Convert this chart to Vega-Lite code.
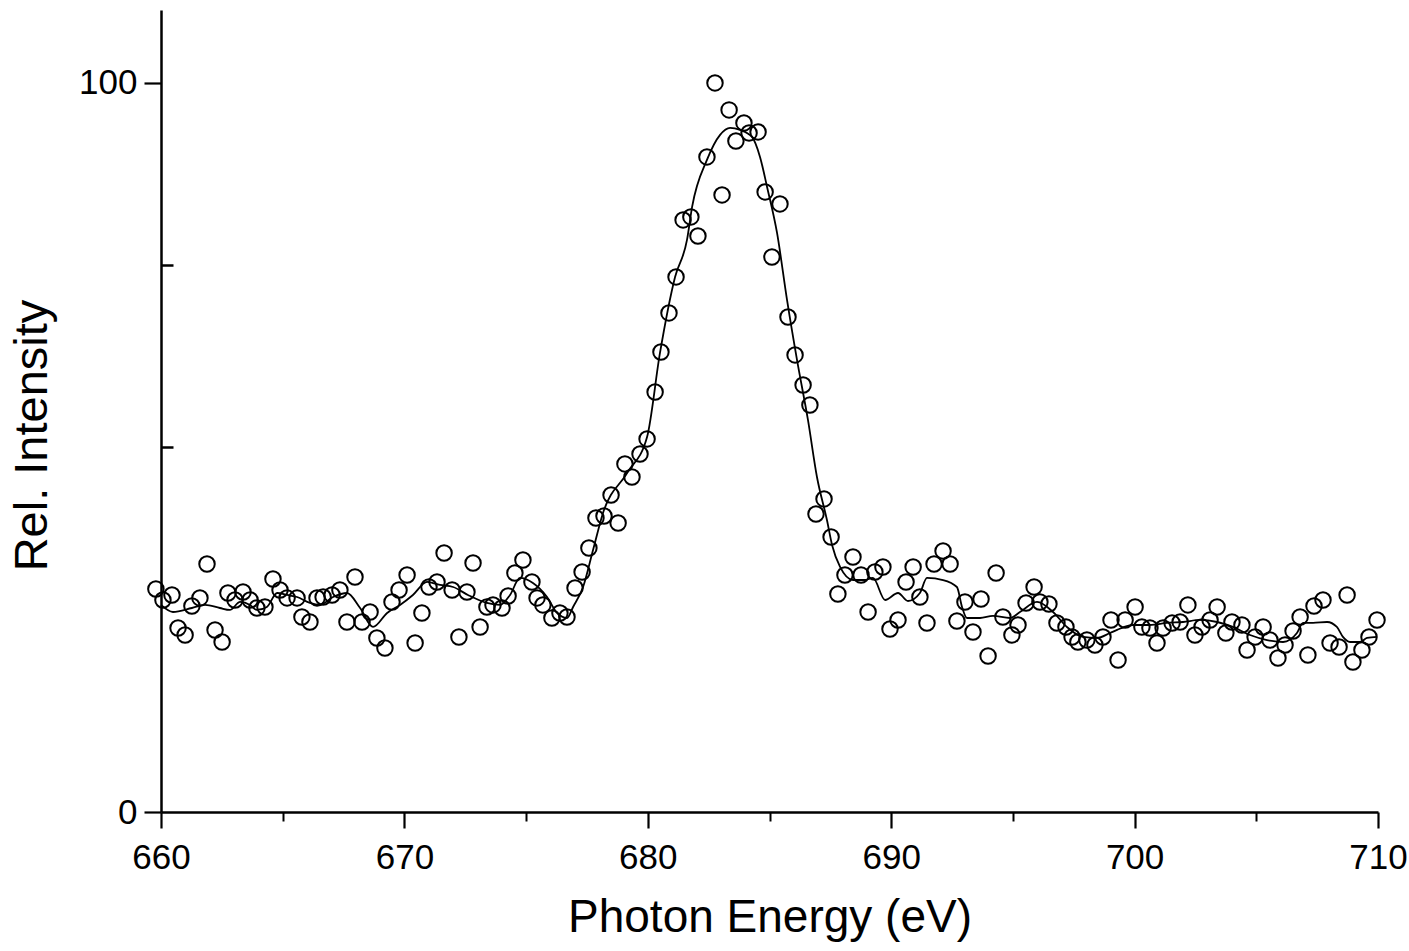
{
  "$schema": "https://vega.github.io/schema/vega-lite/v6.json",
  "width": 1217,
  "height": 802,
  "autosize": {"type": "none"},
  "padding": {"left": 161, "top": 10, "right": 31, "bottom": 139},
  "background": "white",
  "config": {
    "view": {"stroke": null},
    "font": "Liberation Sans",
    "axis": {
      "labelFont": "Liberation Sans",
      "titleFont": "Liberation Sans",
      "domainColor": "black",
      "tickColor": "black",
      "labelColor": "black",
      "titleColor": "black",
      "grid": false
    }
  },
  "datasets": {
    "pts": [
      {"E": 659.79, "I": 30.59}, {"E": 660.08, "I": 29.08}, {"E": 660.45, "I": 29.77}, {"E": 660.70, "I": 25.24},
      {"E": 660.99, "I": 24.28}, {"E": 661.27, "I": 28.26}, {"E": 661.60, "I": 29.36}, {"E": 661.89, "I": 34.02},
      {"E": 662.22, "I": 24.97}, {"E": 662.51, "I": 23.32}, {"E": 662.75, "I": 30.04}, {"E": 663.04, "I": 29.08},
      {"E": 663.37, "I": 30.18}, {"E": 663.66, "I": 29.08}, {"E": 663.94, "I": 27.98}, {"E": 664.27, "I": 28.12},
      {"E": 664.60, "I": 31.96}, {"E": 664.89, "I": 30.45}, {"E": 665.18, "I": 29.36}, {"E": 665.59, "I": 29.36},
      {"E": 665.79, "I": 26.75}, {"E": 666.12, "I": 26.06}, {"E": 666.41, "I": 29.36}, {"E": 666.66, "I": 29.49},
      {"E": 667.03, "I": 29.77}, {"E": 667.35, "I": 30.45}, {"E": 667.64, "I": 26.06}, {"E": 667.97, "I": 32.24},
      {"E": 668.26, "I": 26.06}, {"E": 668.59, "I": 27.43}, {"E": 668.87, "I": 23.87}, {"E": 669.20, "I": 22.50},
      {"E": 669.49, "I": 28.81}, {"E": 669.78, "I": 30.45}, {"E": 670.11, "I": 32.51}, {"E": 670.44, "I": 23.18},
      {"E": 670.72, "I": 27.30}, {"E": 671.01, "I": 30.86}, {"E": 671.34, "I": 31.55}, {"E": 671.63, "I": 35.53},
      {"E": 671.96, "I": 30.45}, {"E": 672.24, "I": 24.01}, {"E": 672.57, "I": 30.18}, {"E": 672.82, "I": 34.16},
      {"E": 673.11, "I": 25.38}, {"E": 673.39, "I": 28.12}, {"E": 673.64, "I": 28.40}, {"E": 674.01, "I": 27.98},
      {"E": 674.26, "I": 29.63}, {"E": 674.54, "I": 32.78}, {"E": 674.87, "I": 34.57}, {"E": 675.24, "I": 31.55},
      {"E": 675.45, "I": 29.36}, {"E": 675.69, "I": 28.40}, {"E": 676.06, "I": 26.61}, {"E": 676.39, "I": 27.30},
      {"E": 676.68, "I": 26.75}, {"E": 677.01, "I": 30.73}, {"E": 677.30, "I": 32.92}, {"E": 677.58, "I": 36.21},
      {"E": 677.87, "I": 40.33}, {"E": 678.20, "I": 40.60}, {"E": 678.49, "I": 43.48}, {"E": 678.78, "I": 39.64},
      {"E": 679.06, "I": 47.74}, {"E": 679.35, "I": 45.95}, {"E": 679.68, "I": 49.11}, {"E": 679.97, "I": 51.17},
      {"E": 680.30, "I": 57.61}, {"E": 680.54, "I": 63.10}, {"E": 680.87, "I": 68.45}, {"E": 681.16, "I": 73.39},
      {"E": 681.45, "I": 81.21}, {"E": 681.77, "I": 81.62}, {"E": 682.06, "I": 79.01}, {"E": 682.43, "I": 89.85},
      {"E": 682.76, "I": 100.0}, {"E": 683.05, "I": 84.64}, {"E": 683.34, "I": 96.30}, {"E": 683.62, "I": 92.04},
      {"E": 683.95, "I": 94.51}, {"E": 684.16, "I": 93.14}, {"E": 684.53, "I": 93.28}, {"E": 684.82, "I": 85.05},
      {"E": 685.10, "I": 76.13}, {"E": 685.43, "I": 83.40}, {"E": 685.76, "I": 67.90}, {"E": 686.05, "I": 62.69},
      {"E": 686.38, "I": 58.57}, {"E": 686.66, "I": 55.83}, {"E": 686.91, "I": 40.88}, {"E": 687.24, "I": 42.94},
      {"E": 687.53, "I": 37.72}, {"E": 687.81, "I": 29.90}, {"E": 688.10, "I": 32.51}, {"E": 688.43, "I": 34.98},
      {"E": 688.76, "I": 32.51}, {"E": 689.05, "I": 27.43}, {"E": 689.33, "I": 32.92}, {"E": 689.66, "I": 33.61},
      {"E": 689.95, "I": 25.10}, {"E": 690.28, "I": 26.34}, {"E": 690.61, "I": 31.55}, {"E": 690.90, "I": 33.61},
      {"E": 691.18, "I": 29.49}, {"E": 691.47, "I": 25.93}, {"E": 691.76, "I": 34.02}, {"E": 692.13, "I": 35.80},
      {"E": 692.42, "I": 34.02}, {"E": 692.70, "I": 26.20}, {"E": 693.03, "I": 28.81}, {"E": 693.36, "I": 24.69},
      {"E": 693.69, "I": 29.22}, {"E": 693.98, "I": 21.40}, {"E": 694.31, "I": 32.78}, {"E": 694.59, "I": 26.75},
      {"E": 694.96, "I": 24.28}, {"E": 695.21, "I": 25.65}, {"E": 695.54, "I": 28.67}, {"E": 695.87, "I": 30.86},
      {"E": 696.11, "I": 28.81}, {"E": 696.48, "I": 28.53}, {"E": 696.81, "I": 25.93}, {"E": 697.18, "I": 25.38},
      {"E": 697.43, "I": 24.01}, {"E": 697.67, "I": 23.32}, {"E": 698.04, "I": 23.59}, {"E": 698.37, "I": 22.91},
      {"E": 698.70, "I": 24.01}, {"E": 699.03, "I": 26.34}, {"E": 699.32, "I": 20.85}, {"E": 699.61, "I": 26.34},
      {"E": 700.02, "I": 28.12}, {"E": 700.30, "I": 25.38}, {"E": 700.63, "I": 25.24}, {"E": 700.92, "I": 23.18},
      {"E": 701.17, "I": 25.24}, {"E": 701.54, "I": 25.93}, {"E": 701.87, "I": 26.06}, {"E": 702.19, "I": 28.40},
      {"E": 702.48, "I": 24.28}, {"E": 702.77, "I": 25.38}, {"E": 703.10, "I": 26.34}, {"E": 703.39, "I": 28.12},
      {"E": 703.75, "I": 24.55}, {"E": 704.00, "I": 26.06}, {"E": 704.41, "I": 25.65}, {"E": 704.62, "I": 22.22},
      {"E": 704.95, "I": 24.01}, {"E": 705.28, "I": 25.38}, {"E": 705.56, "I": 23.59}, {"E": 705.89, "I": 21.12},
      {"E": 706.18, "I": 22.91}, {"E": 706.51, "I": 24.83}, {"E": 706.80, "I": 26.75}, {"E": 707.12, "I": 21.54},
      {"E": 707.37, "I": 28.26}, {"E": 707.74, "I": 29.08}, {"E": 708.03, "I": 23.18}, {"E": 708.40, "I": 22.63},
      {"E": 708.73, "I": 29.77}, {"E": 708.97, "I": 20.58}, {"E": 709.34, "I": 22.22}, {"E": 709.63, "I": 24.01},
      {"E": 709.96, "I": 26.34}
    ],
    "fit": [
      {"E": 660.00, "I": 28.40}, {"E": 660.49, "I": 27.43}, {"E": 661.27, "I": 27.98}, {"E": 661.81, "I": 28.40},
      {"E": 662.42, "I": 27.98}, {"E": 662.83, "I": 27.71}, {"E": 663.25, "I": 28.81}, {"E": 663.66, "I": 28.40},
      {"E": 663.94, "I": 27.71}, {"E": 664.35, "I": 28.12}, {"E": 664.77, "I": 30.04}, {"E": 665.18, "I": 29.77},
      {"E": 665.59, "I": 29.49}, {"E": 666.12, "I": 28.67}, {"E": 666.53, "I": 28.40}, {"E": 667.07, "I": 29.49},
      {"E": 667.64, "I": 30.04}, {"E": 668.18, "I": 27.98}, {"E": 668.71, "I": 25.38}, {"E": 669.29, "I": 27.30},
      {"E": 669.82, "I": 28.40}, {"E": 670.35, "I": 29.77}, {"E": 670.93, "I": 31.55}, {"E": 671.46, "I": 31.14},
      {"E": 672.00, "I": 30.86}, {"E": 672.61, "I": 29.77}, {"E": 673.39, "I": 28.67}, {"E": 673.93, "I": 28.40},
      {"E": 674.34, "I": 29.77}, {"E": 674.75, "I": 32.10}, {"E": 675.28, "I": 31.41}, {"E": 675.86, "I": 29.49},
      {"E": 676.27, "I": 27.30}, {"E": 676.68, "I": 26.61}, {"E": 676.93, "I": 28.12}, {"E": 677.34, "I": 30.86},
      {"E": 677.75, "I": 35.94}, {"E": 678.16, "I": 41.02}, {"E": 679.15, "I": 46.50}, {"E": 679.97, "I": 51.44},
      {"E": 680.50, "I": 62.96}, {"E": 681.12, "I": 73.39}, {"E": 681.61, "I": 78.46}, {"E": 681.82, "I": 82.99},
      {"E": 682.43, "I": 89.44}, {"E": 682.97, "I": 92.87}, {"E": 683.38, "I": 93.83}, {"E": 683.79, "I": 93.55},
      {"E": 684.28, "I": 92.59}, {"E": 684.61, "I": 89.85}, {"E": 684.90, "I": 85.73}, {"E": 685.31, "I": 79.42},
      {"E": 685.72, "I": 70.23}, {"E": 686.13, "I": 62.00}, {"E": 686.58, "I": 53.77}, {"E": 686.95, "I": 45.95},
      {"E": 687.36, "I": 40.05}, {"E": 687.57, "I": 36.63}, {"E": 687.90, "I": 33.61}, {"E": 688.43, "I": 31.82},
      {"E": 688.92, "I": 31.82}, {"E": 689.25, "I": 32.10}, {"E": 689.75, "I": 29.08}, {"E": 690.28, "I": 30.04},
      {"E": 690.69, "I": 28.94}, {"E": 691.18, "I": 30.04}, {"E": 691.47, "I": 32.10}, {"E": 692.13, "I": 31.82},
      {"E": 692.70, "I": 30.86}, {"E": 692.91, "I": 28.12}, {"E": 693.11, "I": 26.61}, {"E": 693.65, "I": 26.61},
      {"E": 694.18, "I": 26.89}, {"E": 694.88, "I": 26.61}, {"E": 695.29, "I": 27.43}, {"E": 695.99, "I": 28.81},
      {"E": 696.65, "I": 27.43}, {"E": 697.22, "I": 25.38}, {"E": 697.88, "I": 24.01}, {"E": 698.45, "I": 23.87},
      {"E": 698.99, "I": 24.55}, {"E": 699.28, "I": 24.97}, {"E": 699.93, "I": 25.65}, {"E": 700.63, "I": 25.65},
      {"E": 701.33, "I": 25.93}, {"E": 701.99, "I": 26.06}, {"E": 702.69, "I": 26.34}, {"E": 703.39, "I": 26.06},
      {"E": 704.04, "I": 25.38}, {"E": 704.74, "I": 24.28}, {"E": 705.44, "I": 23.59}, {"E": 706.10, "I": 23.32},
      {"E": 706.67, "I": 24.55}, {"E": 706.92, "I": 25.93}, {"E": 707.33, "I": 25.93}, {"E": 707.91, "I": 26.06},
      {"E": 708.31, "I": 25.38}, {"E": 708.56, "I": 24.01}, {"E": 708.85, "I": 23.32}, {"E": 709.26, "I": 23.32},
      {"E": 709.55, "I": 23.87}, {"E": 709.96, "I": 24.01}
    ]
  },
  "layer": [
    {
      "data": {"name": "fit"},
      "mark": {"type": "line", "color": "black", "strokeWidth": 1.8, "interpolate": "monotone"},
      "encoding": {
        "x": {
          "field": "E", "type": "quantitative",
          "scale": {"domain": [660, 710], "nice": false, "zero": false},
          "axis": {
            "orient": "bottom",
            "values": [660, 670, 680, 690, 700, 710],
            "tickSize": 16, "tickWidth": 2.2, "domainWidth": 2.5,
            "labelFontSize": 35, "labelPadding": 12, "labelFlush": false,
            "title": "Photon Energy (eV)", "titleFontSize": 46, "titleFontWeight": "normal",
            "titlePadding": 20
          }
        },
        "y": {
          "field": "I", "type": "quantitative",
          "scale": {"domain": [0, 110], "nice": false, "zero": true},
          "axis": {
            "orient": "left",
            "values": [0, 100],
            "tickSize": 17, "tickWidth": 2.2, "domainWidth": 2.5,
            "labelFontSize": 35, "labelPadding": 7, "labelFlush": false,
            "title": "Rel. Intensity", "titleFontSize": 47, "titleFontWeight": "normal",
            "titlePadding": 22, "titleY": 425
          }
        }
      }
    },
    {
      "data": {"name": "pts"},
      "mark": {"type": "point", "shape": "circle", "filled": false, "stroke": "black", "strokeWidth": 2, "size": 240, "opacity": 1},
      "encoding": {
        "x": {
          "field": "E", "type": "quantitative",
          "axis": {
            "orient": "bottom",
            "values": [665, 675, 685, 695, 705],
            "tickSize": 9, "tickWidth": 2, "domain": false, "labels": false, "title": null
          }
        },
        "y": {
          "field": "I", "type": "quantitative",
          "axis": {
            "orient": "right",
            "offset": -1217,
            "values": [50, 75],
            "tickSize": 12, "tickWidth": 2.5, "domain": false, "labels": false, "title": null
          }
        }
      }
    }
  ],
  "resolve": {"axis": {"x": "independent", "y": "independent"}}
}
